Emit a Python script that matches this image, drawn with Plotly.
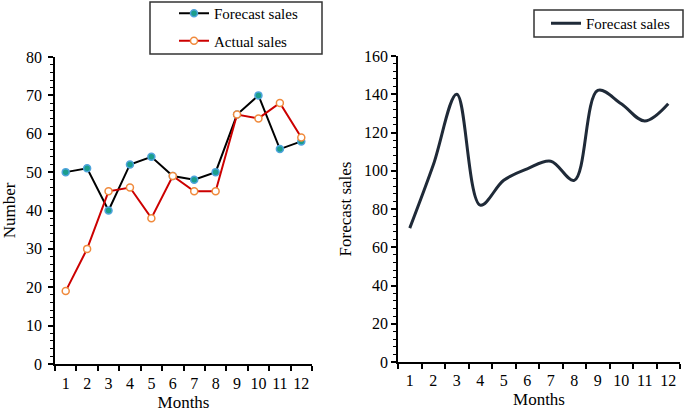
import plotly.graph_objects as go

months = [str(m) for m in range(1, 13)]
forecast_left = [50, 51, 40, 52, 54, 49, 48, 50, 65, 70, 56, 58]
actual_left = [19, 30, 45, 46, 38, 49, 45, 45, 65, 64, 68, 59]
forecast_right = [70, 103, 140, 82, 95, 101, 105, 95, 142, 135, 126, 135]

FONT = "Liberation Serif"
W, H = 685, 416

fig = go.Figure()

fig.add_trace(go.Scatter(
    x=months, y=forecast_left, name="Forecast sales", mode="lines+markers",
    line=dict(color="#000000", width=2),
    marker=dict(size=7, color="#1a9e8c", line=dict(color="#4ea3dc", width=1.5)),
    xaxis="x", yaxis="y", legend="legend", legendgroup="a",
))
fig.add_trace(go.Scatter(
    x=months, y=actual_left, name="Actual sales", mode="lines+markers",
    line=dict(color="#cc0000", width=2),
    marker=dict(size=7, color="#ffffff", line=dict(color="#f08a3c", width=1.5)),
    xaxis="x", yaxis="y", legend="legend", legendgroup="b",
))
fig.add_trace(go.Scatter(
    x=months, y=forecast_right, name="Forecast sales", mode="lines",
    line=dict(color="#1f2a38", width=3, shape="spline", smoothing=1.0),
    xaxis="x2", yaxis="y2", legend="legend2",
))

def px_x(p):
    return p / W

def px_y(p):
    return 1 - p / H

axis_common = dict(
    showline=True, linecolor="#000000", linewidth=1.5, mirror=False,
    showgrid=False, zeroline=False, ticks="outside", tickcolor="#000000",
    tickwidth=1.5, ticklen=5, tickfont=dict(family=FONT, size=16, color="#000000"),
    automargin=False,
)

title_font = dict(family=FONT, size=17, color="#000000")

fig.update_layout(
    width=W, height=H,
    margin=dict(l=0, r=0, t=0, b=0, autoexpand=False),
    paper_bgcolor="#ffffff", plot_bgcolor="#ffffff",
    font=dict(family=FONT, size=15, color="#000000"),
    showlegend=True,
    xaxis=dict(
        **axis_common, type="category", tickson="boundaries", tickangle=0,
        range=[-0.5, 11.5], ticklabelstandoff=4,
        domain=[px_x(55), px_x(312)], anchor="y",
        title=dict(text="Months", font=title_font, standoff=5),
    ),
    yaxis=dict(
        **axis_common, range=[0, 80], dtick=10, domain=[px_y(364), px_y(57)], anchor="x",
        ticklabelstandoff=3,
        minor=dict(dtick=2, ticks="outside", ticklen=3, tickcolor="#000000", tickwidth=1),
        title=dict(text="Number", font=title_font, standoff=8),
    ),
    xaxis2=dict(
        **axis_common, type="category", tickson="boundaries", tickangle=0,
        range=[-0.5, 11.5], ticklabelstandoff=3,
        domain=[px_x(398), px_x(680)], anchor="y2",
        title=dict(text="Months", font=title_font, standoff=5),
    ),
    yaxis2=dict(
        **axis_common, range=[0, 160], dtick=20, domain=[px_y(362), px_y(56)], anchor="x2",
        minor=dict(dtick=4, ticks="outside", ticklen=3, tickcolor="#000000", tickwidth=1),
        title=dict(text="Forecast sales", font=title_font, standoff=8),
    ),
    legend=dict(
        x=px_x(174), y=px_y(-3), xanchor="left", yanchor="top",
        borderwidth=0, bgcolor="rgba(0,0,0,0)",
        font=dict(family=FONT, size=15), tracegroupgap=5,
    ),
    legend2=dict(
        x=px_x(546), y=px_y(7), xanchor="left", yanchor="top",
        borderwidth=0, bgcolor="rgba(0,0,0,0)",
        font=dict(family=FONT, size=15),
    ),
    shapes=[
        dict(type="rect", xref="paper", yref="paper",
             x0=px_x(150), x1=px_x(322), y0=px_y(54), y1=px_y(2),
             line=dict(color="#333333", width=1.5), fillcolor="rgba(0,0,0,0)", layer="below"),
        dict(type="rect", xref="paper", yref="paper",
             x0=px_x(534), x1=px_x(683), y0=px_y(37), y1=px_y(10),
             line=dict(color="#333333", width=1.5), fillcolor="rgba(0,0,0,0)", layer="below"),
    ],
)

fig.write_html(
    "out.html",
    config={"displayModeBar": False},
    post_script="document.body.style.margin='0';document.body.style.overflow='hidden';",
)
